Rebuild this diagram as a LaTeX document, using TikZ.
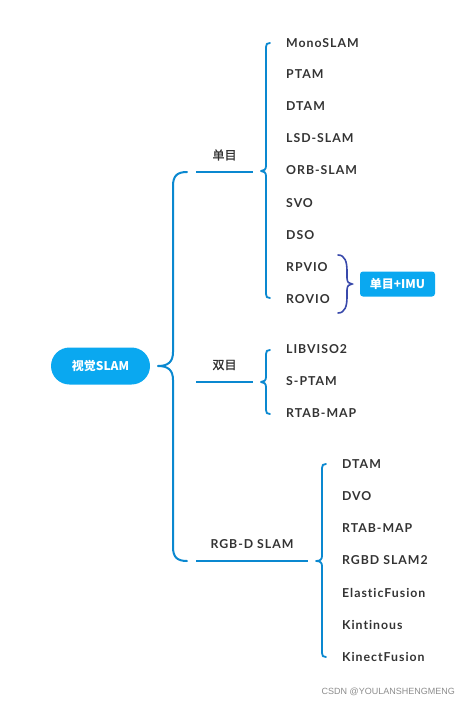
\documentclass[tikz,border=0pt]{standalone}
\usepackage{fontspec}
\setmainfont{Lato}
\newfontfamily\itemfont{Lato}[LetterSpace=8,Ligatures=NoCommon]
\newfontfamily\cjk{Noto Sans CJK SC}
\newfontfamily\cjkm{Noto Sans CJK SC}[FakeBold=1.2]
\newfontfamily\wmfont{Liberation Sans}
\definecolor{linec}{HTML}{0A88D0}
\definecolor{fillc}{HTML}{0AA8F0}
\definecolor{txtc}{HTML}{333333}
\definecolor{imuc}{HTML}{3949AB}
\begin{document}
\begin{tikzpicture}[x=1pt,y=-1pt,
  item/.style={anchor=west,inner sep=0pt,font=\fontsize{12.3}{13}\itemfont\bfseries,text=txtc},
  branch/.style={inner sep=0pt,font=\fontsize{12}{13}\cjkm,text=txtc},
  link/.style={draw=linec,line width=2.4pt},
  bracel/.style={draw=linec,line width=2pt,line cap=round,line join=round},
  pill/.style={fill=fillc,text=white,font=\fontsize{12}{13}\selectfont\cjk\bfseries,inner sep=0pt}]
\useasboundingbox (0,0) rectangle (469,706);
% root
\node[pill,rounded corners=18.5pt,minimum width=99pt,minimum height=37pt] (root) at (100.5,366) {视觉SLAM};
% main brace
\coordinate (mtip) at (158,366);
\coordinate (mtop) at (187,172);
\coordinate (mbot) at (187,561);
\draw[bracel] (mtop) .. controls (177,172) and (173,176) .. (173,186) -- (173,352) .. controls (173,362) and (168,366) .. (mtip)
  .. controls (168,366) and (173,370) .. (173,380) -- (173,547) .. controls (173,557) and (177,561) .. (mbot);
% branch lines
\coordinate (m1) at (196,172); \coordinate (m2) at (253,172);
\coordinate (s1) at (196,382); \coordinate (s2) at (253,382);
\coordinate (r1) at (196,561); \coordinate (r2) at (308,561);
\draw[link] (m1) -- (m2);
\draw[link] (s1) -- (s2);
\draw[link] (r1) -- (r2);
\node[branch] (mono) at (224.5,155) {单目};
\node[branch] (stereo) at (224.5,365) {双目};
\node[inner sep=0pt,font=\fontsize{12.3}{13}\itemfont\bfseries,text=txtc] (rgbd) at (252,544) {RGB-D SLAM};
% mono brace
\coordinate (mt) at (261,171);
\draw[bracel,line width=1.8pt] (270,43) .. controls (267,43) and (266,44) .. (266,47) -- (266,166) .. controls (266,169.5) and (264,171) .. (mt)
  .. controls (264,171) and (266,172.5) .. (266,176) -- (266,294) .. controls (266,297) and (267,298) .. (270,298);
% stereo brace
\coordinate (st) at (261,382);
\draw[bracel,line width=1.8pt] (270,350) .. controls (267,350) and (266,351) .. (266,354) -- (266,377) .. controls (266,380.5) and (264,382) .. (st)
  .. controls (264,382) and (266,383.5) .. (266,387) -- (266,410) .. controls (266,413) and (267,414) .. (270,414);
% rgbd brace
\coordinate (rt) at (316,561);
\draw[bracel,line width=1.8pt] (326,464) .. controls (323,464) and (322,465) .. (322,468) -- (322,556) .. controls (322,559.5) and (320,561) .. (rt)
  .. controls (320,561) and (322,562.5) .. (322,566) -- (322,653) .. controls (322,656) and (323,657) .. (326,657);
% mono items
\node[item] (a1) at (286,43) {MonoSLAM};
\node[item] (a2) at (286,74.5) {PTAM};
\node[item] (a3) at (286,106) {DTAM};
\node[item] (a4) at (286,138) {LSD-SLAM};
\node[item] (a5) at (286,170.5) {ORB-SLAM};
\node[item] (a6) at (286,203) {SVO};
\node[item] (a7) at (286,235) {DSO};
\node[item] (a8) at (286,267) {RPVIO};
\node[item] (a9) at (286,299) {ROVIO};
% IMU brace and box
\coordinate (it) at (352,284);
\draw[draw=imuc,line width=1.6pt,line cap=round] (338,255) .. controls (345,255) and (347,262) .. (347,271) -- (347,278) .. controls (347,282) and (349,284) .. (it)
  .. controls (349,284) and (347,286) .. (347,290) -- (347,297) .. controls (347,306) and (345,313) .. (338,313);
\node[pill,rounded corners=3pt,minimum width=75pt,minimum height=25pt] (imu) at (397.5,284) {单目+IMU};
% stereo items
\node[item] (b1) at (286,349.5) {LIBVISO2};
\node[item] (b2) at (286,381.5) {S-PTAM};
\node[item] (b3) at (286,413.5) {RTAB-MAP};
% rgbd items
\node[item] (c1) at (342,464) {DTAM};
\node[item] (c2) at (342,496) {DVO};
\node[item] (c3) at (342,528) {RTAB-MAP};
\node[item] (c4) at (342,560) {RGBD SLAM2};
\node[item] (c5) at (342,592.5) {ElasticFusion};
\node[item] (c6) at (342,624.5) {Kintinous};
\node[item] (c7) at (342,657) {KinectFusion};
% watermark
\node[anchor=east,inner sep=0pt,font=\fontsize{9}{10}\wmfont,text=black!45] (wm) at (455,692) {CSDN @YOULANSHENGMENG};
\end{tikzpicture}
\end{document}
